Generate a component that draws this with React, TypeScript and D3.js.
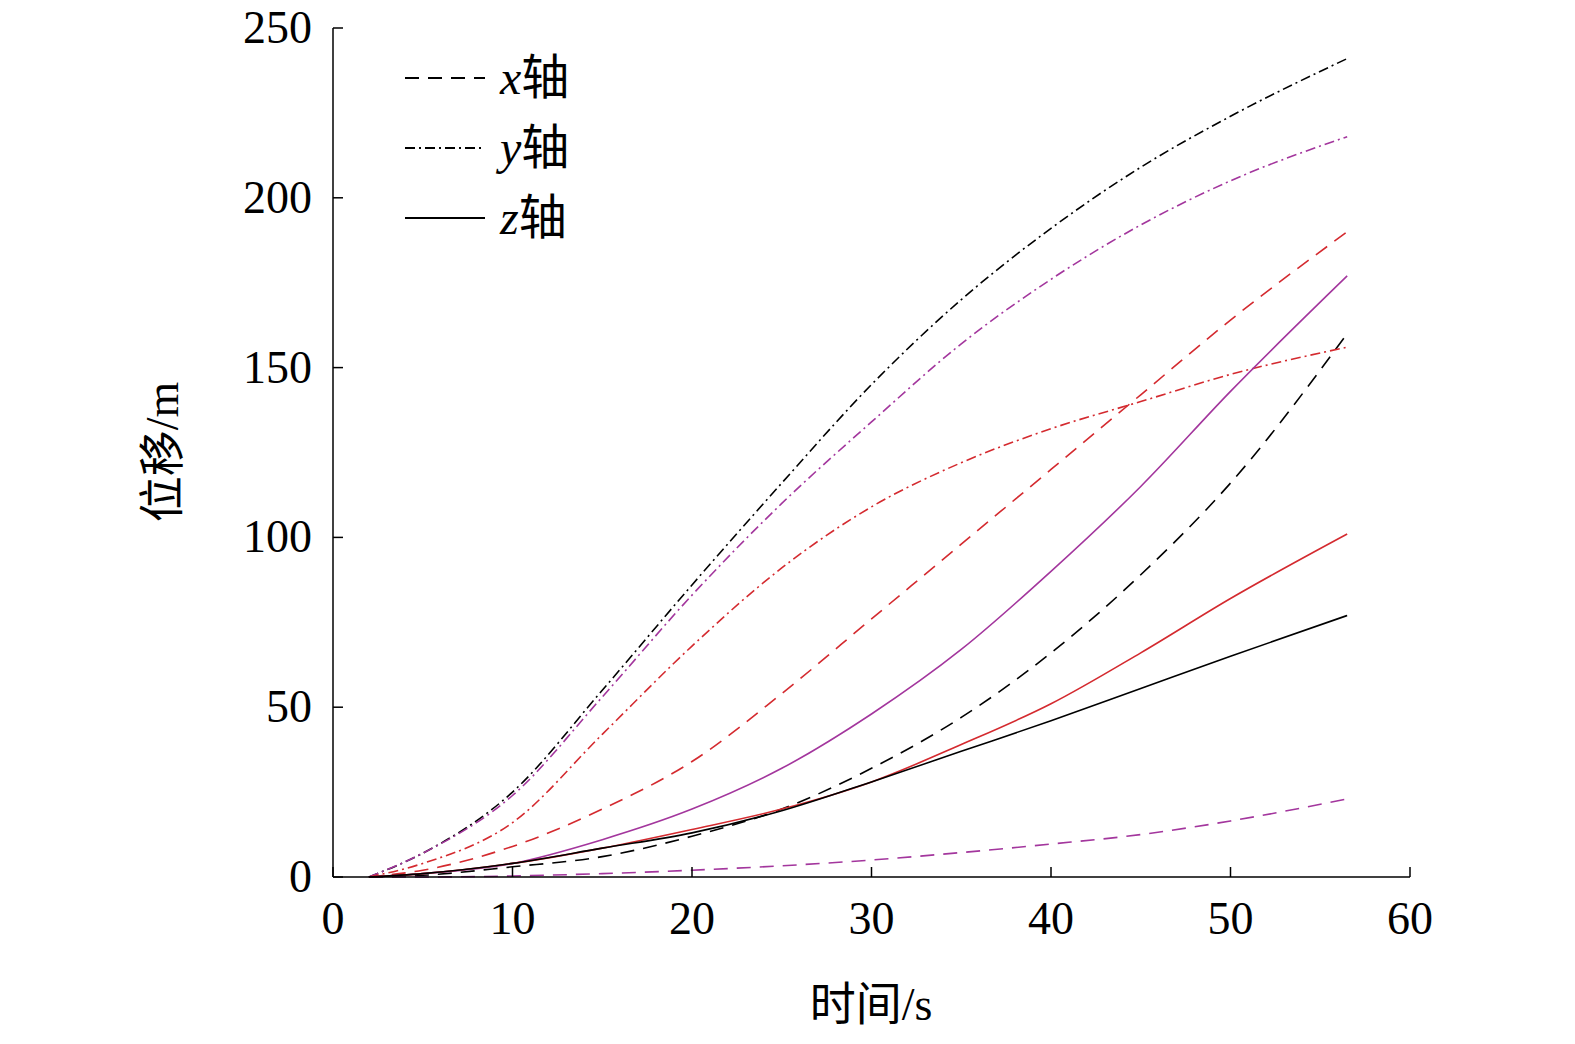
import * as d3 from "d3";

const times = [2, 5, 10, 15, 20, 25, 30, 35, 40, 45, 50, 56.5];

// x轴 (dashed)
const xBlack = [0, 0.5, 3, 6, 12, 20, 32, 47, 66, 89, 116, 160];
const xRed = [0, 2, 9, 20, 34, 54, 76, 98, 120, 142, 164, 190];
const xPurple = [0, 0, 0.3, 1, 2, 3.3, 5, 7.2, 9.7, 12.5, 16.5, 23];
// y轴 (dash-dot)
const yBlack = [0, 7, 25, 55, 86, 116, 145, 170, 191, 209, 224, 241];
const yPurple = [0, 7, 24, 53, 83, 110, 134, 157, 176, 192, 205, 218];
const yRed = [0, 4, 16, 42, 68, 91, 109, 122, 132, 140, 148, 156];
// z轴 (solid)
const zPurple = [0, 1, 4, 11, 20, 32, 48, 67, 90, 115, 143, 177];
const zRed = [0, 1, 4, 8.5, 14, 20, 28, 39, 51, 66, 82, 101];
const zBlack = [0, 1, 4, 8.5, 13, 19.5, 28, 37, 46, 55.5, 65, 77];

const black = "#000";
const red = "#d42a2f";
const purple = "#a3369d";
const dash = "14,9";
const dashDot = "10,4,2,4";

const series = [
  { v: xBlack, c: black, d: dash },
  { v: xRed, c: red, d: dash },
  { v: xPurple, c: purple, d: dash },
  { v: yBlack, c: black, d: dashDot },
  { v: yPurple, c: purple, d: dashDot },
  { v: yRed, c: red, d: dashDot },
  { v: zPurple, c: purple, d: "" },
  { v: zRed, c: red, d: "" },
  { v: zBlack, c: black, d: "" },
];

const xTicks = [0, 10, 20, 30, 40, 50, 60];
const yTicks = [0, 50, 100, 150, 200, 250];
const legend = [
  { k: "x", d: dash },
  { k: "y", d: dashDot },
  { k: "z", d: "" },
];

export default function App() {
  const x = d3.scaleLinear().domain([0, 60]).range([333, 1410]);
  const y = d3.scaleLinear().domain([0, 250]).range([877, 28]);
  const line = d3
    .line<number>()
    .x((_, i) => x(times[i]))
    .y(d => y(d))
    .curve(d3.curveMonotoneX);
  const serif = "'Liberation Serif', 'Times New Roman', serif";
  const cjk = "'Noto Sans CJK SC', sans-serif";
  return (
    <svg width={1575} height={1044} style={{ position: "absolute", left: 0, top: 0, background: "#fff" }}>
      {series.map((s, i) => (
        <path key={i} d={line(s.v) ?? undefined} fill="none" stroke={s.c} strokeWidth={1.6} strokeDasharray={s.d} />
      ))}
      <line x1={333} x2={333} y1={28} y2={877} stroke="#000" strokeWidth={1.5} />
      <line x1={333} x2={1410} y1={877} y2={877} stroke="#000" strokeWidth={1.5} />
      {xTicks.map(t => (
        <g key={t}>
          <line x1={x(t)} x2={x(t)} y1={877} y2={867} stroke="#000" strokeWidth={1.5} />
          <text x={x(t)} y={934} textAnchor="middle" fontFamily={serif} fontSize={46}>{t}</text>
        </g>
      ))}
      {yTicks.map(t => (
        <g key={t}>
          <line x1={333} x2={343} y1={y(t)} y2={y(t)} stroke="#000" strokeWidth={1.5} />
          <text x={312} y={y(t) + 15} textAnchor="end" fontFamily={serif} fontSize={46}>{t}</text>
        </g>
      ))}
      <text x={871} y={1020} textAnchor="middle" fontSize={46}>
        <tspan fontFamily={cjk}>时间</tspan><tspan fontFamily={serif}>/s</tspan>
      </text>
      <text transform="translate(178,452) rotate(-90)" textAnchor="middle" fontSize={46}>
        <tspan fontFamily={cjk}>位移</tspan><tspan fontFamily={serif}>/m</tspan>
      </text>
      {legend.map((l, i) => (
        <g key={l.k}>
          <line x1={405} x2={485} y1={78 + i * 70} y2={78 + i * 70} stroke="#000" strokeWidth={1.8} strokeDasharray={l.d} />
          <text x={500} y={94 + i * 70} fontSize={48}>
            <tspan fontFamily={serif} fontStyle="italic">{l.k}</tspan><tspan fontFamily={cjk}>轴</tspan>
          </text>
        </g>
      ))}
    </svg>
  );
}
